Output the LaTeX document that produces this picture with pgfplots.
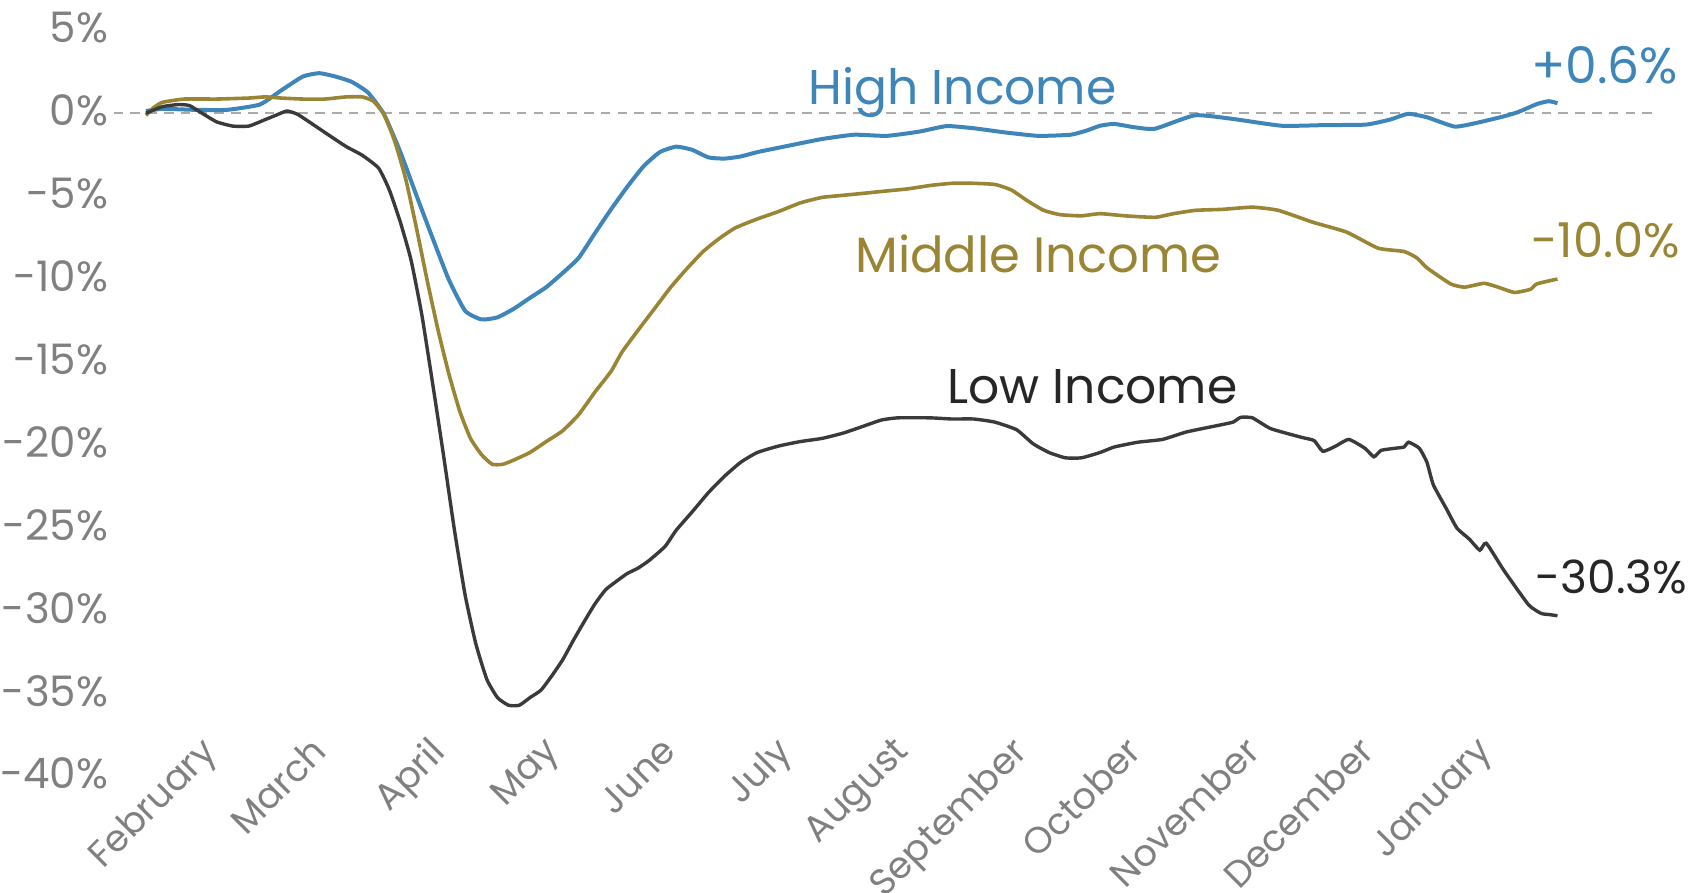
\documentclass[border=0pt]{standalone}
\usepackage{pgfplots}
\pgfplotsset{compat=1.18}
\usepackage{fontspec}
\setmainfont{Poppins}
\definecolor{hiblue}{RGB}{62,134,186}
\definecolor{midgold}{RGB}{153,133,52}
\definecolor{lowdark}{RGB}{58,58,58}
\definecolor{labgray}{RGB}{128,128,128}
\definecolor{zerogray}{RGB}{170,170,170}

\begin{document}
\begin{tikzpicture}
\begin{axis}[
  name=ax,
  scale only axis,
  width=385.35pt, height=186.6pt,
  xmin=4, xmax=408.7, ymin=-40, ymax=5,
  clip=false,
  axis line style={draw=none},
  major tick length=0pt,
  ytick={-40,-35,-30,-25,-20,-15,-10,-5,0,5},
  yticklabels={-40\%,-35\%,-30\%,-25\%,-20\%,-15\%,-10\%,-5\%,0\%,5\%},
  yticklabel style={font=\fontsize{10.5}{12}\selectfont, text=labgray, inner sep=0pt, xshift=-1.2pt, yshift=0.7pt},
  xtick={31,60,91,121,152,182,213,244,274,305,335,366},
  xticklabels={February,March,April,May,June,July,August,September,October,November,December,January},
  xticklabel style={font=\fontsize{9.2}{11}\selectfont, text=labgray, rotate=45, anchor=north east, inner sep=0pt, xshift=4.5pt, yshift=10.7pt},
]
\draw[zerogray, line width=0.5pt, dash pattern=on 2.4pt off 1.8pt] (axis cs:4,0) -- (axis cs:408.7,0);

% High income
\addplot[hiblue, line width=1pt, smooth, tension=0.3] coordinates {
(12.5,0.13) (16.8,0.26) (25.3,0.20) (33.8,0.20) (42.4,0.52) (48.0,1.37) (53.7,2.21) (58.0,2.41)
(62.2,2.21) (66.5,1.89) (70.8,1.24) (75.0,-0.07) (79.3,-2.35) (83.5,-4.95) (87.8,-7.56) (92.0,-10.03)
(96.3,-11.92) (100.6,-12.44) (104.8,-12.31) (109.1,-11.79) (113.3,-11.14) (117.6,-10.49) (121.9,-9.64)
(126.1,-8.73) (130.4,-7.23) (134.6,-5.80) (138.9,-4.43) (143.2,-3.19) (147.4,-2.35) (151.7,-2.02)
(155.9,-2.21) (160.2,-2.67) (164.4,-2.74) (168.7,-2.61) (173.0,-2.35) (181.5,-1.95) (190.0,-1.56)
(198.5,-1.30) (207.0,-1.37) (215.6,-1.11) (222.7,-0.78) (229.8,-0.91) (238.3,-1.17) (246.8,-1.37)
(255.3,-1.30) (259.6,-1.04) (263.0,-0.76) (266.7,-0.65) (272.0,-0.85) (277.4,-0.94) (287.9,-0.13)
(297.9,-0.35) (310.7,-0.76) (322.0,-0.72) (332.8,-0.69) (339.1,-0.39) (343.9,-0.04) (349.0,-0.26)
(356.1,-0.81) (361.8,-0.59) (368.9,-0.20) (372.8,0.07) (377.7,0.55) (380.8,0.72) (383.1,0.6)
};

% Middle income
\addplot[midgold, line width=0.9pt, smooth, tension=0.3] coordinates {
(12.5,-0.13) (14.5,0.33) (16.8,0.65) (22.5,0.85) (31,0.85) (39.5,0.91) (43.8,0.98) (48.0,0.91)
(53.7,0.85) (59.4,0.85) (65.1,0.98) (69.3,0.98) (72.2,0.72) (75.0,-0.07) (77.8,-1.69) (80.7,-3.97)
(83.5,-6.91) (86.4,-10.16) (89.2,-13.09) (92.0,-15.70) (94.9,-17.98) (97.7,-19.61) (100.6,-20.59)
(103.4,-21.17) (106.2,-21.17) (109.1,-20.91) (113.3,-20.46) (117.6,-19.80) (121.9,-19.15)
(126.1,-18.18) (130.4,-16.81) (134.6,-15.57) (137.5,-14.40) (141.7,-13.09) (146.0,-11.79)
(150.3,-10.49) (154.5,-9.38) (158.8,-8.34) (163.0,-7.56) (167.3,-6.91) (173.0,-6.38) (178.6,-5.93)
(184.3,-5.41) (190.0,-5.08) (195.7,-4.95) (201.4,-4.82) (207.0,-4.69) (212.7,-4.56) (218.4,-4.36)
(224.1,-4.23) (229.8,-4.23) (235.4,-4.30) (239.7,-4.63) (243.9,-5.28) (248.2,-5.86) (252.5,-6.12)
(258.1,-6.19) (263.0,-6.06) (269.5,-6.19) (277.4,-6.28) (282.3,-6.06) (288.0,-5.86) (295.1,-5.80)
(303.0,-5.67) (309.8,-5.86) (318.9,-6.58) (327.7,-7.17) (336.0,-8.14) (342.8,-8.34) (346.2,-8.73)
(348.8,-9.32) (355.0,-10.29) (358.7,-10.49) (363.8,-10.26) (367.5,-10.49) (371.8,-10.81)
(376.0,-10.62) (377.7,-10.29) (383.1,-10.0)
};

% Low income
\addplot[lowdark, line width=0.85pt, smooth, tension=0.3] coordinates {
(12.5,0) (16.8,0.39) (21.1,0.52) (23.9,0.46) (26.7,0.07) (31,-0.52) (35.3,-0.78) (39.5,-0.78)
(43.8,-0.39) (46.6,-0.13) (49.5,0.13) (52.3,-0.07) (56.6,-0.72) (60.8,-1.37) (65.1,-2.02)
(69.3,-2.54) (73.6,-3.32) (76.4,-4.63) (79.3,-6.58) (82.1,-8.86) (84.9,-12.12) (87.8,-16.35)
(90.6,-20.59) (93.5,-25.15) (96.3,-29.06) (99.1,-31.99) (102.0,-34.14) (104.8,-35.24)
(107.7,-35.70) (110.5,-35.70) (113.3,-35.24) (116.2,-34.79) (119.0,-33.94) (121.9,-32.96)
(124.7,-31.79) (127.5,-30.68) (130.4,-29.58) (133.2,-28.73) (136.1,-28.21) (138.9,-27.75)
(141.7,-27.43) (144.6,-26.97) (148.8,-26.12) (151.7,-25.15) (155.9,-24.04) (160.2,-22.87)
(164.4,-21.89) (168.7,-21.04) (173.0,-20.46) (178.6,-20.07) (184.3,-19.80) (190.0,-19.61)
(195.7,-19.28) (201.4,-18.83) (205.6,-18.50) (209.9,-18.37) (218.4,-18.37) (224.1,-18.44)
(229.8,-18.44) (235.4,-18.63) (241.1,-19.09) (245.4,-19.93) (249.6,-20.46) (253.9,-20.78)
(258.1,-20.78) (263.0,-20.46) (266.7,-20.13) (272.9,-19.84) (279.4,-19.67) (285.7,-19.22)
(293.9,-18.83) (297.9,-18.63) (299.9,-18.34) (303.0,-18.37) (307.8,-19.02) (315.8,-19.54)
(319.2,-19.74) (321.5,-20.39) (324.9,-20.07) (328.3,-19.67) (332.5,-20.20) (334.9,-20.72)
(336.8,-20.33) (340.6,-20.20) (342.8,-20.13) (344.0,-19.84) (346.8,-20.20) (348.8,-21.04)
(350.5,-22.41) (353.9,-23.84) (356.7,-25.02) (359.9,-25.67) (362.7,-26.35) (364.4,-25.93)
(369.0,-27.56) (375.5,-29.64) (378.8,-30.16) (380.9,-30.23) (383.1,-30.3)
};

\node[anchor=base, text=hiblue, font=\fontsize{12.2}{14}\selectfont, inner sep=0pt] at (axis cs:226.9,0.55) {High Income};
\node[anchor=base, text=midgold, font=\fontsize{12.4}{14}\selectfont, inner sep=0pt] at (axis cs:246.8,-9.6) {Middle Income};
\node[anchor=base, text=black!85, font=\fontsize{12.2}{14}\selectfont, inner sep=0pt] at (axis cs:261.0,-17.5) {Low Income};
\node[anchor=base west, text=hiblue, font=\fontsize{12.6}{14}\selectfont, inner sep=0pt] at (axis cs:376.0,1.8) {+0.6\%};
\node[anchor=base west, text=midgold, font=\fontsize{12}{14}\selectfont, inner sep=0pt] at (axis cs:376.0,-8.68) {-10.0\%};
\node[anchor=base west, text=black!85, font=\fontsize{11.4}{14}\selectfont, inner sep=0pt] at (axis cs:377.1,-28.94) {-30.3\%};
\end{axis}
\pgfresetboundingbox
\path[use as bounding box] ([shift={(-28.4pt,-28.85pt)}]ax.south west) rectangle ([shift={(395.6pt,194.15pt)}]ax.south west);
\end{tikzpicture}
\end{document}
